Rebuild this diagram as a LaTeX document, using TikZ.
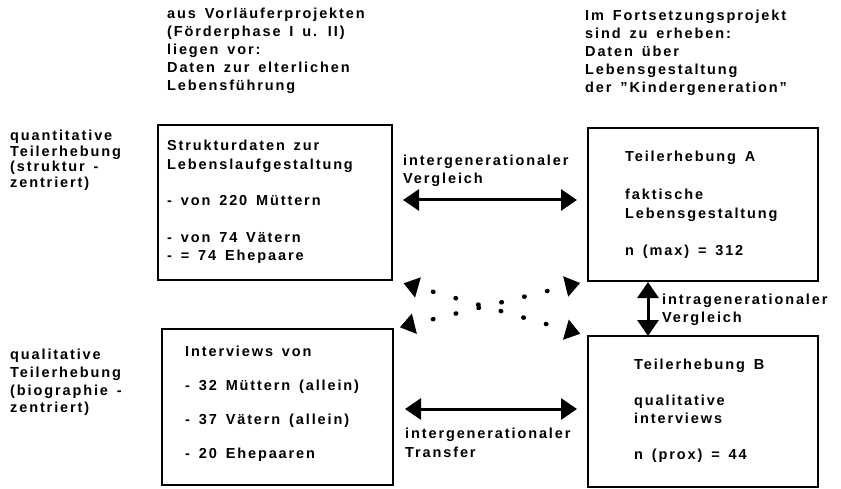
\documentclass[tikz,border=0pt]{standalone}
\usepackage{fontspec}
\setmainfont{Liberation Sans}[LetterSpace=13,WordSpace=1.5]
\usetikzlibrary{arrows.meta}
\newcommand\txtblock[2]{\vtop{\baselineskip=#1\relax\lineskiplimit=-100pt\halign{##\hfil\cr#2\crcr}}}
\begin{document}
\begin{tikzpicture}[x=1pt,y=-1pt,
  box/.style={draw, line width=2pt, outer sep=0pt, inner sep=0pt},
  txt/.style={anchor=base west, inner sep=0pt, font=\bfseries\fontsize{14.5}{18}\selectfont},
  dbl/.style={line width=3pt, {Triangle[length=16pt,width=21pt]}-{Triangle[length=16pt,width=21pt]}},
  dotarrow/.style={line width=4.5pt, line cap=round, dash pattern=on 0.5pt off 23pt, {Triangle[length=15pt,width=20pt]}-{Triangle[length=15pt,width=20pt]}}]
\useasboundingbox (0,0) rectangle (841,489);
% boxes
\node[box, minimum width=234pt, minimum height=155pt] (b1) at (275,202.5) {};
\node[box, minimum width=231pt, minimum height=156pt] (b2) at (277.5,407) {};
\node[box, minimum width=230pt, minimum height=153pt] (b3) at (703,204.5) {};
\node[box, minimum width=230pt, minimum height=151pt] (b4) at (703,411.5) {};
% headers
\node[txt] (hl) at (167,19) {\txtblock{18pt}{aus Vorläuferprojekten\cr (Förderphase I u. II)\cr liegen vor:\cr Daten zur elterlichen\cr Lebensführung}};
\node[txt] (hr) at (585,21) {\txtblock{17.9pt}{Im Fortsetzungsprojekt\cr sind zu erheben:\cr Daten über\cr Lebensgestaltung\cr der \symbol{34}Kindergeneration\symbol{34}}};
% side labels
\node[txt] (lq) at (10,141) {\txtblock{15.5pt}{quantitative\cr Teilerhebung\cr (struktur -\cr zentriert)}};
\node[txt] (lb) at (10,359) {\txtblock{18pt}{qualitative\cr Teilerhebung\cr (biographie -\cr zentriert)}};
% box texts
\node[txt] (t1) at (167,151) {\txtblock{18.3pt}{Strukturdaten zur\cr Lebenslaufgestaltung\cr\cr - von 220 Müttern\cr\cr - von 74 Vätern\cr - = 74 Ehepaare}};
\node[txt] (t2) at (185,356) {\txtblock{17pt}{Interviews von\cr\cr - 32 Müttern (allein)\cr\cr - 37 Vätern (allein)\cr\cr - 20 Ehepaaren}};
\node[txt] (t3) at (625,162) {\txtblock{18.8pt}{Teilerhebung A\cr\cr faktische\cr Lebensgestaltung\cr\cr n (max) = 312}};
\node[txt] (t4) at (634,369) {\txtblock{18pt}{Teilerhebung B\cr\cr qualitative\cr interviews\cr\cr n (prox) = 44}};
% arrow labels
\node[txt] (la) at (403,166) {\txtblock{18pt}{intergenerationaler\cr Vergleich}};
\node[txt] (lt) at (405,438) {\txtblock{19pt}{intergenerationaler\cr Transfer}};
\node[txt] (lv) at (662,304) {\txtblock{18pt}{intragenerationaler\cr Vergleich}};
% connectors
\coordinate (h1) at (0,200);
\coordinate (h2) at (0,409);
\coordinate (v1) at (648,0);
\draw[dbl, shorten <=11pt, shorten >=11pt] (b1.east |- h1) -- (b3.west |- h1);
\draw[dbl, shorten <=12pt, shorten >=11pt] (b2.east |- h2) -- (b4.west |- h2);
\draw[dbl, shorten <=1pt] (b3.south -| v1) -- (b4.north -| v1);
\draw[dotarrow, dash phase=7pt, shorten <=12pt, shorten >=8pt] (b1.south east) -- (b4.north west);
\draw[dotarrow, dash phase=3.5pt, shorten <=7pt, shorten >=8pt] (b2.north east) -- (b3.south west);
\end{tikzpicture}
\end{document}
